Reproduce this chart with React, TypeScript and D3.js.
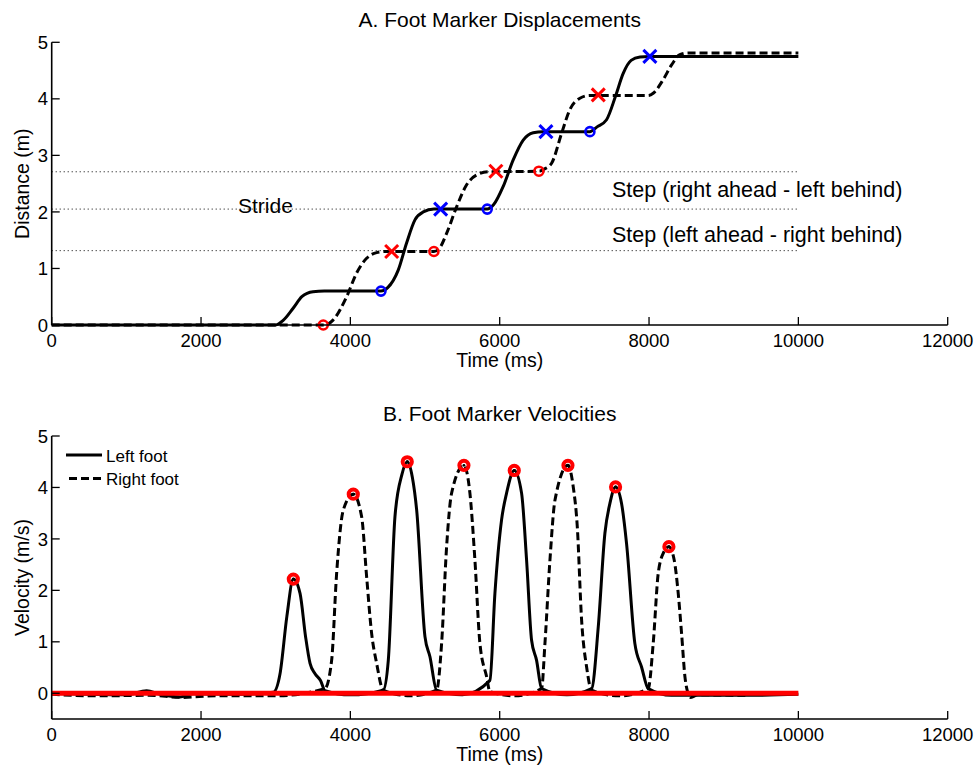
import React from "react";
import * as d3 from "d3";

// ---------- Data ----------
const timeTicks = [0, 2000, 4000, 6000, 8000, 10000, 12000];
const distTicks = [0, 1, 2, 3, 4, 5];
const velTicks = [0, 1, 2, 3, 4, 5];

// Displacement (m) vs time (ms)
const leftDisp: [number, number][] = [
  [0, 0], [3000, 0], [3100, 0.08], [3236, 0.3], [3350, 0.5], [3500, 0.59], [3650, 0.6],
  [4410, 0.6], [4500, 0.66], [4641, 0.97], [4753, 1.45], [4865, 1.86], [4976, 2.0], [5120, 2.05],
  [5833, 2.05], [5920, 2.13], [6047, 2.45], [6181, 2.92], [6315, 3.27], [6449, 3.4], [6580, 3.42],
  [7208, 3.42], [7300, 3.5], [7431, 3.63], [7552, 4.05], [7654, 4.45], [7760, 4.68], [7880, 4.74], [8000, 4.75],
  [10000, 4.75],
];
const rightDisp: [number, number][] = [
  [0, 0], [3660, 0], [3771, 0.09], [3950, 0.5], [4084, 0.92], [4218, 1.18], [4352, 1.28], [4480, 1.3],
  [5119, 1.3], [5200, 1.37], [5289, 1.62], [5423, 2.09], [5557, 2.48], [5700, 2.66], [5850, 2.71],
  [6525, 2.72], [6600, 2.76], [6695, 2.86], [6829, 3.39], [6940, 3.81], [7074, 4.01], [7208, 4.06],
  [7990, 4.06], [8056, 4.1], [8190, 4.34], [8302, 4.6], [8413, 4.78], [8525, 4.81],
  [10000, 4.81],
];

const leftHeelStrike: [number, number][] = [[5209, 2.05], [6619, 3.42], [8011, 4.75]];
const leftToeOff: [number, number][] = [[4410, 0.6], [5833, 2.05], [7208, 3.42]];
const rightHeelStrike: [number, number][] = [[4553, 1.3], [5949, 2.72], [7320, 4.07]];
const rightToeOff: [number, number][] = [[3637, 0], [5119, 1.3], [6525, 2.72]];

const refLevels = [2.71, 2.05, 1.315];

// Velocity (m/s) vs time (ms)
const leftVel: [number, number][] = [
  [0, 0], [500, -0.02], [1000, -0.03], [1271, 0.05], [1450, -0.02], [1718, -0.07], [1900, -0.01],
  [2500, -0.02], [2968, 0.02], [3058, 0.38], [3150, 1.5], [3236, 2.22], [3326, 1.94], [3400, 1.1],
  [3460, 0.58], [3527, 0.38], [3600, 0.25], [3660, 0.05], [4000, -0.03],
  [4440, 0.06], [4508, 0.64], [4597, 3.43], [4690, 4.25], [4762, 4.5], [4830, 4.2], [4888, 3.56],
  [4999, 1.1], [5066, 0.71], [5155, 0.06], [5500, -0.03],
  [5869, 0.25], [5936, 1.94], [6025, 3.37], [6092, 3.89], [6195, 4.33], [6293, 3.89], [6360, 2.59],
  [6427, 1.03], [6494, 0.64], [6561, 0.09], [6900, -0.03],
  [7231, 0.09], [7320, 1.29], [7409, 3.11], [7476, 3.69], [7552, 4.01], [7632, 3.69], [7699, 2.91],
  [7810, 0.97], [7900, 0.51], [7989, 0.09], [8300, -0.04], [9300, -0.04], [10000, -0.02],
];
const rightVel: [number, number][] = [
  [0, -0.02], [600, -0.05], [1300, -0.04], [1750, -0.08], [2200, -0.05], [3000, -0.05],
  [3660, 0.09], [3749, 0.64], [3816, 2.33], [3905, 3.56], [4039, 3.87], [4151, 3.43], [4218, 2.26],
  [4285, 1.16], [4352, 0.58], [4440, 0.06], [4800, -0.05],
  [5155, 0.06], [5222, 0.97], [5289, 2.85], [5356, 3.89], [5521, 4.43], [5601, 3.89], [5668, 2.59],
  [5735, 0.97], [5825, 0.32], [5869, 0.03], [6200, -0.05],
  [6561, 0.09], [6606, 0.97], [6673, 2.59], [6740, 3.75], [6914, 4.43], [6985, 4.01], [7039, 3.24],
  [7097, 1.42], [7164, 0.51], [7231, 0.06], [7600, -0.05],
  [7989, 0.09], [8056, 0.97], [8123, 2.33], [8190, 2.72], [8266, 2.85], [8337, 2.59], [8391, 1.94],
  [8436, 1.16], [8481, 0.32], [8525, -0.01], [8560, -0.08], [8650, -0.03], [9300, -0.04],
];
const velPeaks: [number, number][] = [
  [3236, 2.22], [4039, 3.87], [4762, 4.5], [5521, 4.43], [6195, 4.33], [6914, 4.43], [7552, 4.01], [8266, 2.85],
];
const zeroLine: [number, number][] = [[0, 0], [10000, 0]];

// ---------- Layout ----------
const W = 979;
const H = 768;
const FONT = "'Liberation Sans', Arial, Helvetica, sans-serif";

const x = d3.scaleLinear().domain([0, 12000]).range([51.7, 947.7]);
const yA = d3.scaleLinear().domain([0, 5]).range([325, 42.3]);
const yB = d3.scaleLinear().domain([-0.5, 5]).range([719, 436]);

function Axes({ y, ticks, yMin, label, labelY }: any) {
  const y0 = y(yMin);
  const yTop = y(5);
  return (
    <g>
      <line x1={x(0)} x2={x(12000)} y1={y0} y2={y0} stroke="#000" strokeWidth={1.6} />
      <line x1={x(0)} x2={x(0)} y1={y0} y2={yTop} stroke="#000" strokeWidth={1.6} />
      {timeTicks.map((t) => (
        <g key={"xt" + t}>
          <line x1={x(t)} x2={x(t)} y1={y0} y2={y0 - 8} stroke="#000" strokeWidth={1.3} />
          <text x={x(t)} y={y0 + 22} textAnchor="middle" fontSize={18.5} fontFamily={FONT}>
            {t}
          </text>
        </g>
      ))}
      {ticks.map((v: number) => (
        <g key={"yt" + v}>
          <line x1={x(0)} x2={x(0) + 8} y1={y(v)} y2={y(v)} stroke="#000" strokeWidth={1.3} />
          <text x={48} y={y(v) + 6.6} textAnchor="end" fontSize={18.5} fontFamily={FONT}>
            {v}
          </text>
        </g>
      ))}
      <text x={(x(0) + x(12000)) / 2} y={y0 + 42} textAnchor="middle" fontSize={19.5} fontFamily={FONT}>
        Time (ms)
      </text>
      <text
        transform={`translate(29,${labelY}) rotate(-90)`}
        textAnchor="middle"
        fontSize={19.5}
        fontFamily={FONT}
      >
        {label}
      </text>
    </g>
  );
}

function Cross({ cx, cy, color }: any) {
  const s = 6.5;
  return (
    <g stroke={color} strokeWidth={3}>
      <line x1={cx - s} y1={cy - s} x2={cx + s} y2={cy + s} />
      <line x1={cx - s} y1={cy + s} x2={cx + s} y2={cy - s} />
    </g>
  );
}

export default function App() {
  const lineA = d3
    .line<[number, number]>()
    .x((d) => x(d[0]))
    .y((d) => yA(d[1]))
    .curve(d3.curveMonotoneX);
  const lineB = d3
    .line<[number, number]>()
    .x((d) => x(d[0]))
    .y((d) => yB(d[1]))
    .curve(d3.curveMonotoneX);

  return (
    <svg
      width={W}
      height={H}
      style={{ position: "absolute", left: 0, top: 0, background: "#fff" }}
    >
      <rect x={0} y={0} width={W} height={H} fill="#fff" />
      {/* ---------- Panel A ---------- */}
      <text x={(x(0) + x(12000)) / 2} y={27} textAnchor="middle" fontSize={21} fontFamily={FONT}>
        A. Foot Marker Displacements
      </text>
      {refLevels.map((v) => (
        <line
          key={"ref" + v}
          x1={x(0)}
          x2={x(10000)}
          y1={yA(v)}
          y2={yA(v)}
          stroke="#000"
          strokeWidth={1}
          strokeDasharray="1 3"
        />
      ))}
      <path d={lineA(rightDisp) || ""} fill="none" stroke="#000" strokeWidth={3} strokeDasharray="8 4" />
      <path d={lineA(leftDisp) || ""} fill="none" stroke="#000" strokeWidth={3} />
      {leftToeOff.map((d, i) => (
        <circle key={"lo" + i} cx={x(d[0])} cy={yA(d[1])} r={4.5} fill="none" stroke="#0000ff" strokeWidth={2.6} />
      ))}
      {rightToeOff.map((d, i) => (
        <circle key={"ro" + i} cx={x(d[0])} cy={yA(d[1])} r={4.5} fill="none" stroke="#ff0000" strokeWidth={2.6} />
      ))}
      {leftHeelStrike.map((d, i) => (
        <Cross key={"lx" + i} cx={x(d[0])} cy={yA(d[1])} color="#0000ff" />
      ))}
      {rightHeelStrike.map((d, i) => (
        <Cross key={"rx" + i} cx={x(d[0])} cy={yA(d[1])} color="#ff0000" />
      ))}
      <text x={238} y={213} fontSize={21} fontFamily={FONT}>
        Stride
      </text>
      <text x={612} y={197} fontSize={21.5} fontFamily={FONT}>
        Step (right ahead - left behind)
      </text>
      <text x={612} y={242} fontSize={21.5} fontFamily={FONT}>
        Step (left ahead - right behind)
      </text>
      <Axes y={yA} ticks={distTicks} yMin={0} label="Distance (m)" labelY={(yA(0) + yA(5)) / 2} />

      {/* ---------- Panel B ---------- */}
      <text x={(x(0) + x(12000)) / 2} y={421} textAnchor="middle" fontSize={21} fontFamily={FONT}>
        B. Foot Marker Velocities
      </text>
      <path d={lineB(rightVel) || ""} fill="none" stroke="#000" strokeWidth={3} strokeDasharray="8 4" />
      <path d={lineB(leftVel) || ""} fill="none" stroke="#000" strokeWidth={3} />
      <path d={lineB(zeroLine) || ""} fill="none" stroke="#ff0000" strokeWidth={5} />
      {velPeaks.map((d, i) => (
        <g key={"pk" + i}>
          <circle cx={x(d[0])} cy={yB(d[1])} r={4.6} fill="none" stroke="#ff0000" strokeWidth={4} />
          <circle cx={x(d[0])} cy={yB(d[1])} r={1.4} fill="#000" />
        </g>
      ))}
      {/* legend */}
      <line x1={66} x2={102} y1={455} y2={455} stroke="#000" strokeWidth={3} />
      <text x={106} y={462} fontSize={17} fontFamily={FONT}>
        Left foot
      </text>
      <line x1={69} x2={102} y1={478.5} y2={478.5} stroke="#000" strokeWidth={3} strokeDasharray="8 4" />
      <text x={106} y={485} fontSize={17} fontFamily={FONT}>
        Right foot
      </text>
      <Axes y={yB} ticks={velTicks} yMin={-0.5} label="Velocity (m/s)" labelY={(yB(-0.5) + yB(5)) / 2} />
    </svg>
  );
}
